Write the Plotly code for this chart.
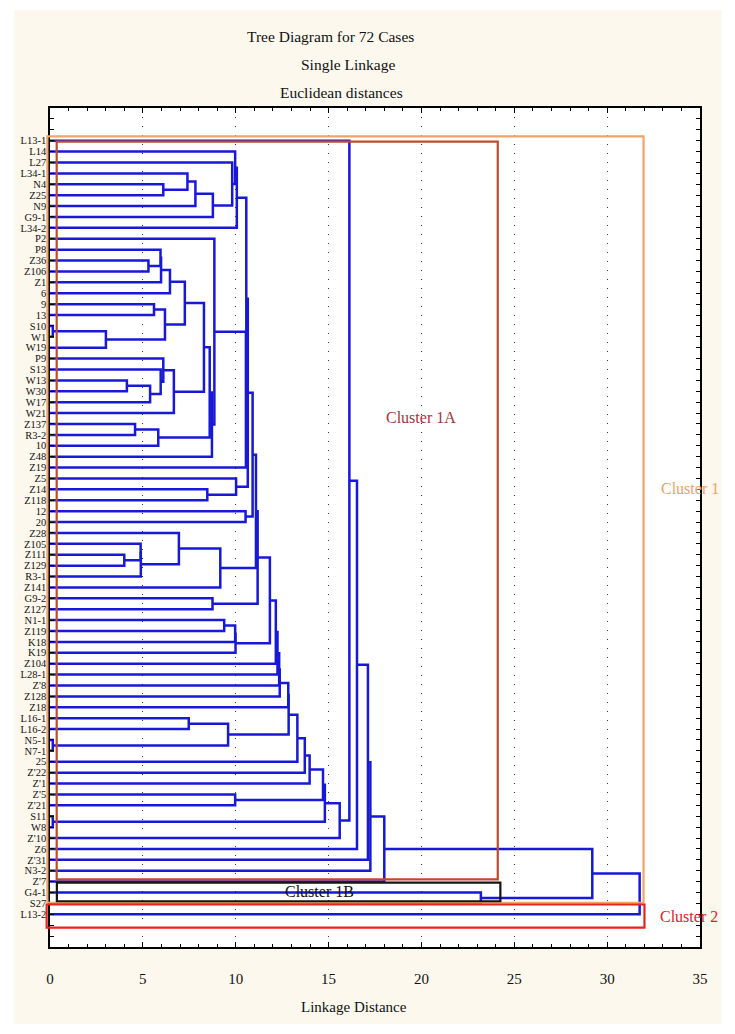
import plotly.graph_objects as go

# ---------------- data ----------------
leaf_labels = ["L13-1", "L14", "L27", "L34-1", "N4", "Z25", "N9", "G9-1", "L34-2", "P2",
               "P8", "Z36", "Z106", "Z1", "6", "9", "13", "S10", "W1", "W19",
               "P9", "S13", "W13", "W30", "W17", "W21", "Z137", "R3-2", "10", "Z48",
               "Z19", "Z5", "Z14", "Z118", "12", "20", "Z28", "Z105", "Z111", "Z129",
               "R3-1", "Z141", "G9-2", "Z127", "N1-1", "Z119", "K18", "K19", "Z104", "L28-1",
               "Z'8", "Z128", "Z18", "L16-1", "L16-2", "N5-1", "N7-1", "25", "Z'22", "Z'1",
               "Z'5", "Z'21", "S11", "W8", "Z'10", "Z6", "Z'31", "N3-2", "Z'7", "G4-1",
               "S27", "L13-2"]

# merges: "#k" refers to the cluster created by merge k
merge_left = ["N4", "L34-1", "#1", "#2", "L27", "L14", "#5",
              "Z36", "P8", "#8", "#9", "9", "S10", "#12", "#11", "#10",
              "W13", "#16", "S13", "P9", "#19", "#15", "Z137", "#22", "#21", "#24", "P2",
              "#26", "#6", "Z14", "Z5", "#28", "12", "#31",
              "Z111", "Z105", "#35", "Z28", "#37", "#33", "G9-2", "#39",
              "N1-1", "#42", "#43", "#41", "#45", "#46", "#47", "#48", "#49",
              "L16-1", "N5-1", "#51", "#50", "#54", "#55", "#56", "Z'5", "#57",
              "S11", "#59", "#61", "L13-1", "#63", "#64", "#65", "#66",
              "G4-1", "#67", "#69"]
merge_right = ["Z25", "#0", "N9", "G9-1", "#3", "#4", "L34-2",
               "Z106", "#7", "Z1", "6", "13", "W1", "W19", "#13", "#14",
               "W30", "W17", "#17", "#18", "W21", "#20", "R3-2", "10", "#23", "Z48", "#25",
               "Z19", "#27", "Z118", "#29", "#30", "20", "#32",
               "Z129", "#34", "R3-1", "#36", "Z141", "#38", "Z127", "#40",
               "Z119", "K18", "K19", "#44", "Z104", "L28-1", "Z'8", "Z128", "Z18",
               "L16-2", "N7-1", "#52", "#53", "25", "Z'22", "Z'1", "Z'21", "#58",
               "W8", "#60", "Z'10", "#62", "Z6", "Z'31", "N3-2", "Z'7",
               "S27", "#68", "L13-2"]
merge_height = [6.10, 7.40, 7.83, 8.77, 9.81, 9.97, 10.06,
                5.30, 5.95, 5.98, 6.46, 5.60, 0.15, 3.01, 6.19, 7.26,
                4.14, 5.39, 5.96, 6.10, 6.67, 8.29, 4.58, 5.83, 8.60, 8.72, 8.85,
                10.55, 10.57, 8.47, 10.02, 10.65, 10.53, 10.91,
                4.00, 4.88, 4.89, 6.94, 9.17, 11.09, 8.75, 11.18,
                9.38, 9.97, 9.99, 11.84, 12.16, 12.25, 12.34, 12.37, 12.83,
                7.47, 0.15, 9.59, 12.85, 13.32, 13.72, 13.98, 9.97, 14.70,
                0.15, 14.80, 15.60, 16.12, 16.53, 17.12, 17.25, 18.00,
                23.20, 29.20, 31.75]

x_ticks = [0, 5, 10, 15, 20, 25, 30, 35]

# cluster boxes (linkage-distance units / leaf-row units)
box_names = ["Cluster 1", "Cluster 1A", "Cluster 1B", "Cluster 2"]
box_x0 = [-0.14, 0.36, 0.37, -0.18]
box_x1 = [31.96, 24.11, 24.25, 32.01]
box_r0 = [-0.39, 0.09, 68.1, 70.1]
box_r1 = [69.94, 67.8, 69.8, 72.23]
box_colors = ["#F2A468", "#BF4A2C", "#151515", "#E8221E"]
label_x = [34.45, 20.0, 14.5, 34.4]
label_r = [31.9, 25.4, 68.95, 71.2]
label_colors = ["#F0A062", "#A3343C", "#111111", "#E3201E"]

# ---------------- geometry ----------------
X_RANGE = [0, 35]
ROW_RANGE = [-3, 74]
# page offset of the default html body margin
BODY = 8
PLOT_L, PLOT_T, PLOT_W, PLOT_H = 46, 108, 654, 839  # plot area on the page
FIG_W, FIG_H = 735 - BODY, 1034 - BODY


def xp(d):
    return (d - X_RANGE[0]) / (X_RANGE[1] - X_RANGE[0])


def yp(r):
    return (ROW_RANGE[1] - r) / (ROW_RANGE[1] - ROW_RANGE[0])


def px_x(px):
    return (px - PLOT_L) / PLOT_W


def px_y(py):
    return (PLOT_T + PLOT_H - py) / PLOT_H


pos = {name: i for i, name in enumerate(leaf_labels)}
hgt = {name: 0.0 for name in leaf_labels}
xs, ys = [], []
for k, (a, b, h) in enumerate(zip(merge_left, merge_right, merge_height)):
    ya, yb = pos[a], pos[b]
    xs += [hgt[a], h, h, hgt[b], None]
    ys += [ya, ya, yb, yb, None]
    pos["#%d" % k] = (ya + yb) / 2
    hgt["#%d" % k] = h

SERIF = "Liberation Serif, Times New Roman, serif"

fig = go.Figure()
fig.add_trace(go.Scatter(x=xs, y=ys, mode="lines",
                         line=dict(color="#1818D8", width=2.5),
                         hoverinfo="skip", showlegend=False, cliponaxis=False))

row_ticks = list(range(-2, 74))
row_text = [leaf_labels[r] if 0 <= r < len(leaf_labels) else "" for r in row_ticks]

shapes = [
    dict(type="rect", xref="paper", yref="paper", x0=px_x(10), x1=px_x(722), y0=px_y(1024), y1=px_y(10),
         fillcolor="#FCF8EE", line=dict(width=0), layer="below"),
    dict(type="rect", xref="paper", yref="paper", x0=0, x1=1, y0=0, y1=1,
         fillcolor="white", line=dict(width=0), layer="below"),
]
for x0, x1, r0, r1, c in zip(box_x0, box_x1, box_r0, box_r1, box_colors):
    shapes.append(dict(type="rect", xref="paper", yref="paper",
                       x0=xp(x0), x1=xp(x1), y0=yp(r1), y1=yp(r0),
                       line=dict(color=c, width=2.2), fillcolor="rgba(0,0,0,0)", layer="above"))

annotations = []
for name, lx, lr, c in zip(box_names, label_x, label_r, label_colors):
    annotations.append(dict(text=name, xref="paper", yref="paper", x=xp(lx), y=yp(lr),
                            showarrow=False, xanchor="center", yanchor="middle",
                            font=dict(family=SERIF, size=16, color=c)))

titles = ["Tree Diagram for 72 Cases", "Single Linkage", "Euclidean distances"]
title_x = [328, 346, 339]
title_y = [37, 65, 92]
for t, tx, ty in zip(titles, title_x, title_y):
    annotations.append(dict(text=t, xref="paper", yref="paper",
                            x=px_x(tx), y=px_y(ty),
                            showarrow=False, xanchor="center", yanchor="middle",
                            font=dict(family=SERIF, size=15.5, color="#111")))
annotations.append(dict(text="Linkage Distance", xref="paper", yref="paper",
                        x=px_x(352), y=px_y(1007),
                        showarrow=False, xanchor="center", yanchor="middle",
                        font=dict(family=SERIF, size=15, color="#111")))

fig.update_layout(
    width=FIG_W, height=FIG_H,
    margin=dict(l=PLOT_L - BODY, r=FIG_W - (PLOT_L - BODY) - PLOT_W,
                t=PLOT_T - BODY, b=FIG_H - (PLOT_T - BODY) - PLOT_H),
    paper_bgcolor="white", plot_bgcolor="white",
    shapes=shapes, annotations=annotations,
    showlegend=False,
    xaxis=dict(range=X_RANGE, tickvals=x_ticks, ticks="inside", ticklen=5, tickwidth=1,
               tickcolor="black", mirror="ticks", showline=True, linecolor="black", linewidth=1.5,
               showgrid=True, gridcolor="#333333", griddash="1px,8px", gridwidth=1,
               zeroline=False, ticklabelstandoff=17,
               tickfont=dict(family=SERIF, size=15, color="#111"),
               minor=dict(dtick=1, ticks="inside", ticklen=3, tickcolor="black", showgrid=False)),
    yaxis=dict(range=[ROW_RANGE[1], ROW_RANGE[0]], tickvals=row_ticks, ticktext=row_text,
               ticks="inside", ticklen=4, tickwidth=1, tickcolor="black", mirror="ticks",
               showline=True, linecolor="black", linewidth=1.5, showgrid=False, zeroline=False,
               tickfont=dict(family=SERIF, size=10.5, color="#111")),
)

fig.write_html("out.html")
